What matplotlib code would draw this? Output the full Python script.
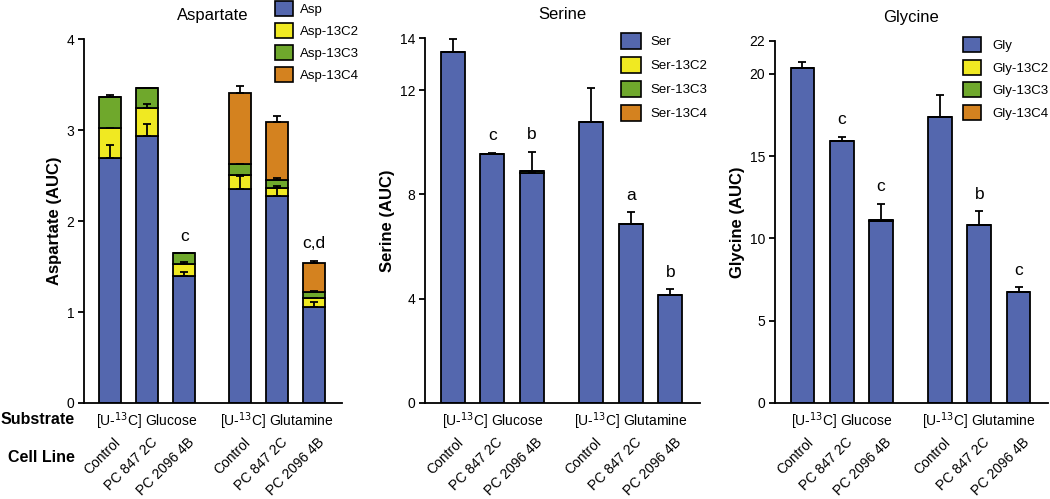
import matplotlib
matplotlib.use('Agg')
import matplotlib.pyplot as plt
from matplotlib.patches import Patch
import numpy as np

plt.rcParams['font.family'] = ['Liberation Sans', 'DejaVu Sans']

# ---- data ----
groups = ['[U-$^{13}$C] Glucose', '[U-$^{13}$C] Glutamine']
cell_lines = ['Control', 'PC 847 2C', 'PC 2096 4B', 'Control', 'PC 847 2C', 'PC 2096 4B']

asp_labels = ['Asp', 'Asp-13C2', 'Asp-13C3', 'Asp-13C4']
asp_m0 = [2.69, 2.93, 1.40, 2.35, 2.27, 1.05]
asp_c2 = [0.335, 0.31, 0.127, 0.155, 0.09, 0.10]
asp_c3 = [0.335, 0.22, 0.118, 0.125, 0.09, 0.065]
asp_c4 = [0.0, 0.0, 0.0, 0.78, 0.64, 0.32]
asp_m0_err = [0.145, 0.14, 0.04, 0.14, 0.12, 0.06]
asp_c2_err = [0.0, 0.045, 0.025, 0.0, 0.0, 0.0]
asp_c3_err = [0.02, 0.0, 0.0, 0.0, 0.02, 0.02]
asp_c4_err = [0.0, 0.0, 0.0, 0.07, 0.06, 0.025]
asp_sig = ['', '', 'c', '', '', 'c,d']

ser_labels = ['Ser', 'Ser-13C2', 'Ser-13C3', 'Ser-13C4']
ser_m0 = [13.45, 9.55, 8.83, 10.78, 6.85, 4.14]
ser_c2 = [0, 0, 0, 0, 0, 0]
ser_c3 = [0, 0, 0.08, 0, 0, 0]
ser_c4 = [0, 0, 0, 0, 0, 0]
ser_err = [0.52, 0.04, 0.81, 1.29, 0.46, 0.22]
ser_sig = ['', 'c', 'b', '', 'a', 'b']

gly_labels = ['Gly', 'Gly-13C2', 'Gly-13C3', 'Gly-13C4']
gly_m0 = [20.35, 15.93, 11.04, 17.41, 10.80, 6.75]
gly_c2 = [0, 0, 0, 0, 0, 0]
gly_c3 = [0, 0, 0.08, 0, 0, 0]
gly_c4 = [0, 0, 0, 0, 0, 0]
gly_err = [0.38, 0.24, 1.08, 1.31, 0.85, 0.28]
gly_sig = ['', 'c', 'c', '', 'b', 'c']

zeros = [0] * 6
colors = ['#5467ae', '#f0e922', '#6fa82c', '#d4821f']

x = np.array([0, 1, 2, 3.5, 4.5, 5.5])
group_centers = [1, 4.5]

W, H = 1050, 499
fig = plt.figure(figsize=(W / 100, H / 100), dpi=100)


def px_axes(left, top, right, bottom):
    return fig.add_axes([left / W, 1 - bottom / H, (right - left) / W, (bottom - top) / H])


def draw_panel(ax, segs, errs, labels, sig, ymax, yticks, title, ylabel, leg_pos, leg_kw, lab_x):
    base = np.zeros(6)
    tops = []
    for vals, c in zip(segs, colors):
        ax.bar(x, vals, bottom=base, width=0.6, color=c, edgecolor='black',
               linewidth=1.3, zorder=2)
        base = base + np.array(vals)
        tops.append(base.copy())
    hi = np.zeros(6)
    for t, e in zip(tops, errs):
        e = np.array(e, dtype=float)
        ax.errorbar(x, t, yerr=[np.zeros(6), e], fmt='none', ecolor='black',
                    elinewidth=1.3, capsize=3, capthick=1.3, zorder=3)
        hi = np.maximum(hi, t + e)
    for xi, h, s in zip(x, hi, sig):
        if s:
            ax.annotate(s, (xi, h), xytext=(0, 7), textcoords='offset points',
                        ha='center', va='bottom', fontsize=12.5)

    ax.set_xlim(-0.7, 6.25)
    ax.set_ylim(0, ymax)
    ax.set_yticks(yticks)
    ax.set_xticks([])
    for sp in ['top', 'right']:
        ax.spines[sp].set_visible(False)
    for sp in ['left', 'bottom']:
        ax.spines[sp].set_linewidth(1.3)
    ax.tick_params(axis='y', direction='out', length=4, width=1.3, labelsize=10, pad=3)

    ax.set_title(title, fontsize=12, pad=14)
    ax.set_ylabel(ylabel, fontsize=12, fontweight='bold')
    ax.yaxis.set_label_coords(lab_x, 0.5)

    for gc, g in zip(group_centers, groups):
        ax.annotate(g, (gc, 0), xycoords=('data', 'axes fraction'), xytext=(0, -13),
                    textcoords='offset points', ha='center', va='center', fontsize=10)
    for xi, cl in zip(x, cell_lines):
        ax.annotate(cl, (xi, 0), xycoords=('data', 'axes fraction'), xytext=(2.5, -23),
                    textcoords='offset points', ha='right', va='top', rotation=45,
                    rotation_mode='anchor', fontsize=10)

    handles = [Patch(facecolor=c, edgecolor='black', linewidth=1.2, label=l)
               for c, l in zip(colors, labels)]
    fig.legend(handles=handles, loc='upper left', bbox_to_anchor=leg_pos,
               frameon=False, borderpad=0, borderaxespad=0, fontsize=9.5, **leg_kw)


ax1 = px_axes(84, 39, 342, 403)
draw_panel(ax1, [asp_m0, asp_c2, asp_c3, asp_c4],
           [asp_m0_err, asp_c2_err, asp_c3_err, asp_c4_err],
           asp_labels, asp_sig, 4, [0, 1, 2, 3, 4], 'Aspartate', 'Aspartate (AUC)',
           (275 / W, 1 - 1 / H),
           dict(handlelength=1.34, handleheight=1.34, labelspacing=0.55, handletextpad=0.55),
           -0.085)

ax2 = px_axes(425, 38, 700, 403)
draw_panel(ax2, [ser_m0, ser_c2, ser_c3, ser_c4],
           [ser_err, zeros, zeros, zeros],
           ser_labels, ser_sig, 14, [0, 4, 8, 12, 14], 'Serine', 'Serine (AUC)',
           (621 / W, 1 - 33 / H),
           dict(handlelength=1.5, handleheight=1.5, labelspacing=0.6, handletextpad=0.76),
           -0.109)

ax3 = px_axes(775, 41, 1048, 403)
draw_panel(ax3, [gly_m0, gly_c2, gly_c3, gly_c4],
           [gly_err, zeros, zeros, zeros],
           gly_labels, gly_sig, 22, [0, 5, 10, 15, 20, 22], 'Glycine', 'Glycine (AUC)',
           (963 / W, 1 - 37 / H),
           dict(handlelength=1.39, handleheight=1.39, labelspacing=0.56, handletextpad=0.83),
           -0.11)

fig.text(75 / W, 1 - 420 / H, 'Substrate', ha='right', va='center',
         fontsize=11.5, fontweight='bold')
fig.text(75 / W, 1 - 457 / H, 'Cell Line', ha='right', va='center',
         fontsize=11.5, fontweight='bold')

fig.savefig('out.png', dpi=100)
